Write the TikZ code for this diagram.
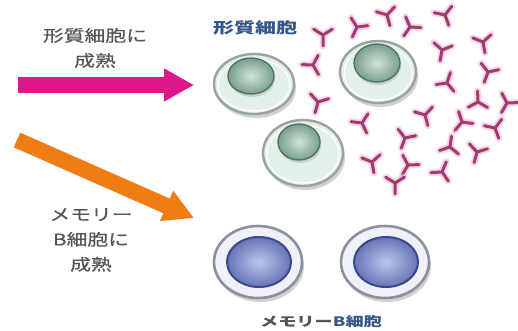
\documentclass[tikz,border=0pt]{standalone}
\usepackage{fontspec}
\newfontfamily\jp[FakeBold=0.5]{Noto Sans CJK JP}
\newfontfamily\jptitle{Noto Sans CJK JP}
\usetikzlibrary{arrows.meta}

\definecolor{magentaArrow}{HTML}{DE1889}
\definecolor{orangeArrow}{HTML}{F07C14}
\definecolor{captionGray}{HTML}{555555}
\definecolor{labelBlue}{HTML}{34578A}
\definecolor{mintFill}{HTML}{E2F0E9}
\definecolor{cellRim}{HTML}{9AA39F}
\definecolor{nucDark}{HTML}{7A9F8C}
\definecolor{nucLight}{HTML}{CFE4D8}
\definecolor{nucRim}{HTML}{4E7061}
\definecolor{bRing}{HTML}{EEF1F8}
\definecolor{bRim}{HTML}{8B9099}
\definecolor{bInnerRim}{HTML}{3C4888}
\definecolor{bDark}{HTML}{6675B6}
\definecolor{bLight}{HTML}{BCC6EC}
\definecolor{abDark}{HTML}{A03C70}
\definecolor{abGlow}{HTML}{F3BCDA}

\newcommand\wide[2][1.3]{\scalebox{#1}[1]{#2}}

\tikzset{
  caption/.style={font=\jp\fontsize{16}{25}\selectfont, text=captionGray, align=center, inner sep=0pt},
  celltitle/.style={font=\jptitle\bfseries\fontsize{15}{15}\selectfont, inner sep=0pt},
  fatarrow/.style={line width=16pt, -{Triangle[length=30pt,width=31pt]}},
  cellshadow/.style={fill=black, opacity=0.18},
  plasmabody/.style={fill=mintFill, draw=cellRim, line width=2.4pt},
  plasmashine/.style={draw=white, line width=1.4pt, opacity=0.9},
  nucleus/.style={inner color=nucLight, outer color=nucDark},
  nucleusrim/.style={draw=nucRim, line width=1.3pt},
  bbody/.style={fill=bRing, draw=bRim, line width=2.6pt},
  bcore/.style={inner color=bLight, outer color=bDark},
  bcorerim/.style={draw=bInnerRim, line width=2pt},
  abglow/.style={draw=abGlow, line width=7pt, line cap=round, opacity=0.6},
  abline/.style={draw=abDark, line width=3pt, line cap=round},
  antibody/.pic={
    \path[abglow] (0,0) -- (90:11) (0,0) -- (212:11) (0,0) -- (328:11);
    \path[abline] (0,0) -- (90:11) (0,0) -- (212:11) (0,0) -- (328:11);
  }
}

\begin{document}
\begin{tikzpicture}[x=1pt, y=-1pt]
  \useasboundingbox (0,0) rectangle (518,331);
  \fill[white] (0,0) rectangle (518,331);

  % captions beside the arrows
  \node[caption] (toPlasma) at (95,48) {\wide{形質細胞に}\\\wide{成熟}};
  \node[caption] (toMemory) at (91,240) {\wide{メモリー}\\\wide{B細胞に}\\\wide{成熟}};

  % the two maturation arrows
  \coordinate (pinkFrom) at (18,85);
  \coordinate (pinkTo) at (194,85);
  \draw[fatarrow, magentaArrow] (pinkFrom) -- (pinkTo);
  \coordinate (orangeFrom) at (17,140);
  \coordinate (orangeTo) at (194,218);
  \draw[fatarrow, orangeArrow] (orangeFrom) -- (orangeTo);

  % plasma cells
  \foreach \cx/\cy/\rx/\ry/\nx/\ny/\nrx/\nry in {
      254/84/40/30/251/76/23/18,
      378/72/38/31/377/63/23/19,
      303/153/40/33/299/142/21/18} {
    \fill[cellshadow] (\cx+2,\cy+4) ellipse ({\rx} and {\ry});
    \path[plasmabody] (\cx,\cy) ellipse ({\rx} and {\ry});
    \path[plasmashine] (\cx,\cy+1) ellipse ({\rx-4} and {\ry-4});
    \fill[black, opacity=0.12] (\nx+1,\ny+3) ellipse ({\nrx} and {\nry});
    \shade[nucleus] (\nx,\ny) ellipse ({\nrx} and {\nry});
    \path[nucleusrim] (\nx,\ny) ellipse ({\nrx} and {\nry});
  }

  % antibodies released by the plasma cells
  \foreach \ax/\ay/\rot in {
      323/35/0, 357/27/-25, 387/15/15, 410/27/-35, 445/15/20,
      442/50/-10, 483/42/10, 313/65/30, 488/72/-20, 447/83/40,
      318/102/-15, 362/123/25, 478/102/60, 507/103/-30, 425/115/15,
      462/122/-40, 495/128/20, 405/138/-20, 450/147/50, 477/152/-15,
      372/162/10, 408/165/-30, 442/172/35, 395/183/0} {
    \pic[rotate=\rot] at (\ax,\ay) {antibody};
  }

  % memory B cells
  \foreach \cx in {258,385} {
    \fill[cellshadow] (\cx+2,266) ellipse (44 and 36);
    \path[bbody] (\cx,262) ellipse (44 and 36);
    \shade[bcore] (\cx+1,262) ellipse (32 and 25);
    \path[bcorerim] (\cx+1,262) ellipse (32 and 25);
  }

  % cell titles
  \node[celltitle, text=labelBlue] (plasmaTitle) at (255,28) {\wide[1.4]{形質細胞}};
  \node[celltitle, font=\jptitle\bfseries\fontsize{13}{13}\selectfont] (memoryTitle) at (321,322)
    {\wide[1.4]{\textcolor{captionGray}{メモリー}\textcolor{labelBlue}{B細胞}}};
\end{tikzpicture}
\end{document}
